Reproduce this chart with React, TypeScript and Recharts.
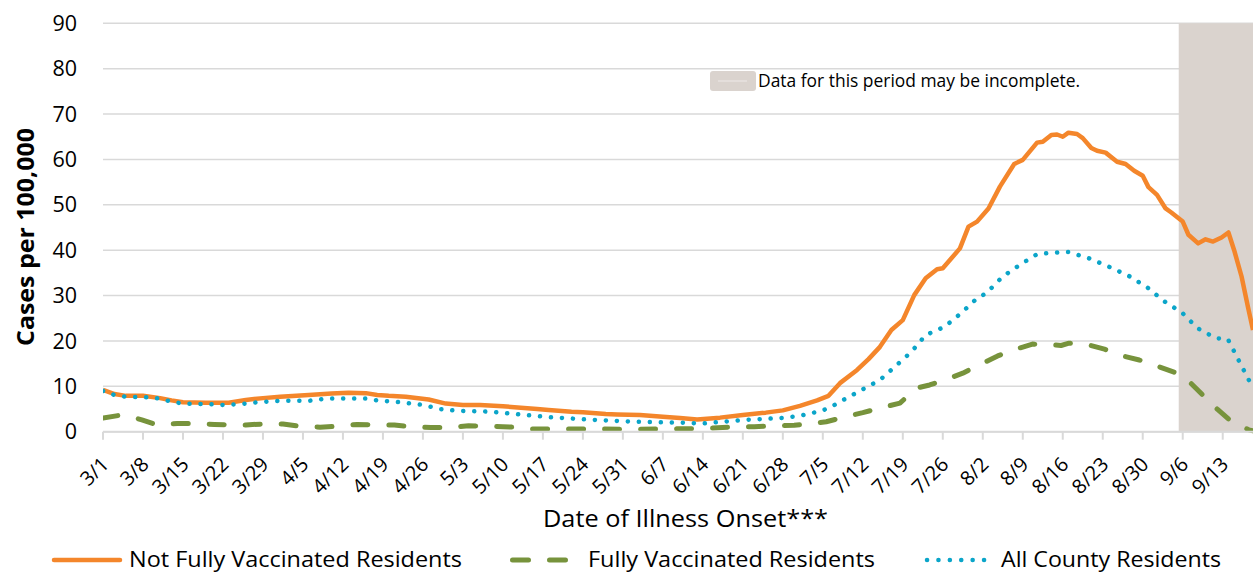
import React from 'react';
import { LineChart, Line, XAxis, YAxis, CartesianGrid, ReferenceArea } from 'recharts';

const FONT = '"Open Sans", "Noto Sans", sans-serif';

const tickLabels = [
  '3/1', '3/8', '3/15', '3/22', '3/29', '4/5', '4/12', '4/19', '4/26', '5/3',
  '5/10', '5/17', '5/24', '5/31', '6/7', '6/14', '6/21', '6/28', '7/5', '7/12',
  '7/19', '7/26', '8/2', '8/9', '8/16', '8/23', '8/30', '9/6', '9/13',
];
const tickDays = tickLabels.map((_, i) => i * 7);
const yTicks = [0, 10, 20, 30, 40, 50, 60, 70, 80, 90];

// days since 3/1
const notFullyDays = [
  0, 2, 4, 7, 10, 12, 14, 18, 22, 25, 28, 31, 36, 40, 43, 46, 48, 50, 53, 57,
  60, 63, 66, 70, 72, 76, 78, 82, 84, 88, 90, 94, 98, 101, 104, 108, 112, 116, 119, 122,
  125, 127, 129, 132, 134, 136, 138, 140, 142, 144, 146, 147, 150, 151.5, 153, 155, 157, 159.5, 161, 163.5,
  164.5, 166, 167, 168, 169, 170.5, 171.5, 173, 174, 175.5, 177.5, 179, 180.5, 182, 183, 184.5, 186, 187, 189, 190,
  191.7, 193, 194.3, 195.8, 197, 198, 199.3, 200.4, 201.3,
];
const notFullyRates = [
  9.2, 8.3, 7.9, 7.9, 7.4, 6.9, 6.5, 6.4, 6.4, 7.0, 7.4, 7.7, 8.1, 8.4, 8.6, 8.5, 8.1, 7.9, 7.7, 7.1,
  6.2, 5.9, 5.9, 5.6, 5.4, 5.0, 4.8, 4.4, 4.3, 3.9, 3.8, 3.7, 3.3, 3.0, 2.7, 3.1, 3.7, 4.2, 4.7, 5.7,
  6.9, 7.9, 10.7, 13.6, 16.0, 18.7, 22.4, 24.6, 30.1, 33.8, 35.8, 36.0, 40.4, 45.2, 46.3, 49.2, 54.0, 59.0, 59.9, 63.7,
  63.9, 65.4, 65.5, 65.0, 65.9, 65.6, 64.7, 62.5, 61.9, 61.5, 59.5, 59.0, 57.5, 56.4, 53.9, 52.2, 49.2, 48.3, 46.3, 43.4,
  41.5, 42.4, 41.9, 42.8, 43.9, 40.0, 34.2, 27.6, 22.4,
];

const fullyDays = [
  0, 3.3, 5, 6.8, 9.4, 13, 16, 19.5, 22.4, 25, 28, 31.5, 34.5, 38, 41, 44.5, 47.7, 51, 54, 57.4,
  60.6, 64, 67, 70, 72, 75, 80, 86, 92, 99, 105, 111, 114, 118, 121, 124, 126.6, 130, 133, 136,
  139.5, 142.4, 144.7, 148.2, 150.5, 154, 156.6, 159.8, 162.7, 165.9, 167.7, 169.1, 172.3, 175.3, 178.5, 181.4, 184.9, 187.8, 190.4, 192.8,
  195.1, 197.4, 200.6, 201.3,
];
const fullyRates = [
  3.0, 3.7, 3.3, 2.6, 1.5, 1.8, 1.8, 1.6, 1.5, 1.5, 1.7, 1.7, 1.2, 1.0, 1.2, 1.6, 1.5, 1.5, 1.1, 0.9,
  0.9, 1.3, 1.2, 1.1, 1.0, 0.6, 0.6, 0.6, 0.5, 0.6, 0.7, 1.1, 1.1, 1.3, 1.4, 1.8, 2.2, 3.3, 4.2, 5.2,
  6.3, 9.6, 10.3, 11.8, 12.9, 15.1, 16.7, 18.2, 19.3, 19.2, 19.0, 19.5, 19.2, 18.2, 16.7, 15.8, 14.3, 13.0, 10.7, 7.7,
  4.9, 2.4, 0.4, 0.2,
];

const allDays = [
  0, 2, 4, 8, 10, 12, 14, 18, 21, 23, 25, 27, 31, 36, 39, 46, 48, 52, 56, 59,
  62, 68, 73, 78, 86, 93, 101, 105, 108.5, 112.5, 118.5, 122, 125.8, 127.5, 129.3, 132.5, 136, 138.6, 141.5, 144,
  147.3, 150.2, 153, 154.6, 157.5, 160.4, 163.6, 167.4, 169, 172.6, 176, 179.6, 182.8, 185.7, 188.9, 191.6, 194.8, 196.9, 198.6, 200.4,
  201.3,
];
const allRates = [
  9.0, 8.1, 7.7, 7.6, 7.3, 6.6, 6.2, 6.1, 5.9, 6.0, 6.2, 6.5, 6.8, 6.8, 7.3, 7.3, 6.9, 6.5, 5.9, 5.0,
  4.6, 4.4, 3.8, 3.2, 2.6, 2.2, 2.0, 1.8, 2.2, 2.6, 3.0, 3.5, 4.6, 5.5, 6.8, 9.0, 11.4, 14.3, 17.6, 21.3,
  23.1, 26.1, 29.4, 30.5, 34.2, 36.7, 39.2, 39.5, 39.6, 38.2, 36.4, 34.3, 31.8, 28.8, 26.2, 22.8, 20.6, 20.4, 16.2, 11.8,
  9.6,
];

const incompleteFromDay = 188.3;
const lastDay = 201.3;

const toPoints = (days: number[], vals: number[]) => days.map((day, i) => ({ day, value: vals[i] }));
const notFullyData = toPoints(notFullyDays, notFullyRates);
const fullyData = toPoints(fullyDays, fullyRates);
const allData = toPoints(allDays, allRates);

const ORANGE = '#F4862B';
const GREEN = '#77933C';
const BLUE = '#0BA5C9';
const SHADE = '#DAD3CE';
const GRID = '#D9D9D9';

const DateTick = (props: any) => {
  const { x, y, payload } = props;
  const ax = x + 7;
  const ay = y + 24;
  const label = tickLabels[Math.round(payload.value / 7)];
  return (
    <text x={ax} y={ay} transform={`rotate(-45 ${ax} ${ay})`} textAnchor="end" fontSize={20} fontFamily={FONT} fill="#000">
      {label}
    </text>
  );
};

export default function App() {
  return (
    <div style={{ position: 'absolute', left: 0, top: 0, width: 1253, height: 572, background: '#fff', overflow: 'hidden' }}>
      <LineChart width={1253} height={572} margin={{ top: 23.3, right: 0, bottom: 0, left: 0 }}>
        <CartesianGrid vertical={false} stroke={GRID} strokeWidth={1.6} />
        <XAxis
          type="number"
          dataKey="day"
          domain={[0, lastDay]}
          ticks={tickDays}
          interval={0}
          allowDataOverflow
          height={140.3}
          axisLine={{ stroke: GRID, strokeWidth: 2 }}
          tickLine={{ stroke: GRID, strokeWidth: 2 }}
          tickSize={8}
          tickMargin={2}
          tick={<DateTick />}
        />
        <YAxis
          type="number"
          domain={[0, 90]}
          ticks={yTicks}
          interval={0}
          width={103}
          axisLine={false}
          tickLine={false}
          tickSize={8}
          tickMargin={18}
          tick={{ fontSize: 21.5, fontFamily: FONT, fill: '#000' }}
        />
        <ReferenceArea x1={incompleteFromDay} x2={lastDay} y1={0} y2={90} fill={SHADE} fillOpacity={1} stroke="none" />
        <Line data={notFullyData} dataKey="value" type="linear" stroke={ORANGE} strokeWidth={4.5} strokeLinejoin="round" dot={false} activeDot={false} isAnimationActive={false} />
        <Line data={fullyData} dataKey="value" type="linear" stroke={GREEN} strokeWidth={5} strokeDasharray="15 21" strokeLinecap="round" strokeLinejoin="round" dot={false} activeDot={false} isAnimationActive={false} />
        <Line data={allData} dataKey="value" type="linear" stroke={BLUE} strokeWidth={4.5} strokeDasharray="0.1 10.9" strokeLinecap="round" strokeLinejoin="round" dot={false} activeDot={false} isAnimationActive={false} />
      </LineChart>
      <svg width={1253} height={572} style={{ position: 'absolute', left: 0, top: 0, pointerEvents: 'none' }} fontFamily={FONT}>
        <text transform="translate(24 237) rotate(-90)" textAnchor="middle" dominantBaseline="central" fontSize={24} fontWeight={700} fill="#000" textLength={218} lengthAdjust="spacingAndGlyphs">
          Cases per 100,000
        </text>
        <text x={543} y={527} fontSize={24} fill="#000" textLength={285} lengthAdjust="spacingAndGlyphs">Date of Illness Onset***</text>
        <rect x={710} y={71} width={46} height={20} rx={3} fill={SHADE} />
        <line x1={718} y1={81} x2={747} y2={81} stroke="#E7E2DF" strokeWidth={1.5} />
        <text x={758} y={86.5} fontSize={18} fill="#000" textLength={322} lengthAdjust="spacingAndGlyphs">Data for this period may be incomplete.</text>
        <line x1={54} y1={560} x2={120} y2={560} stroke={ORANGE} strokeWidth={4.5} strokeLinecap="round" />
        <text x={129} y={566.7} fontSize={21.5} fill="#000" textLength={333} lengthAdjust="spacingAndGlyphs">Not Fully Vaccinated Residents</text>
        <line x1={512.5} y1={560} x2={565.5} y2={560} stroke={GREEN} strokeWidth={5} strokeDasharray="16 21" strokeLinecap="round" />
        <text x={588} y={566.7} fontSize={21.5} fill="#000" textLength={287} lengthAdjust="spacingAndGlyphs">Fully Vaccinated Residents</text>
        <line x1={927} y1={560} x2={995} y2={560} stroke={BLUE} strokeWidth={4.5} strokeDasharray="0.1 11.3" strokeLinecap="round" />
        <text x={1001} y={566.7} fontSize={21.5} fill="#000" textLength={220} lengthAdjust="spacingAndGlyphs">All County Residents</text>
      </svg>
    </div>
  );
}
